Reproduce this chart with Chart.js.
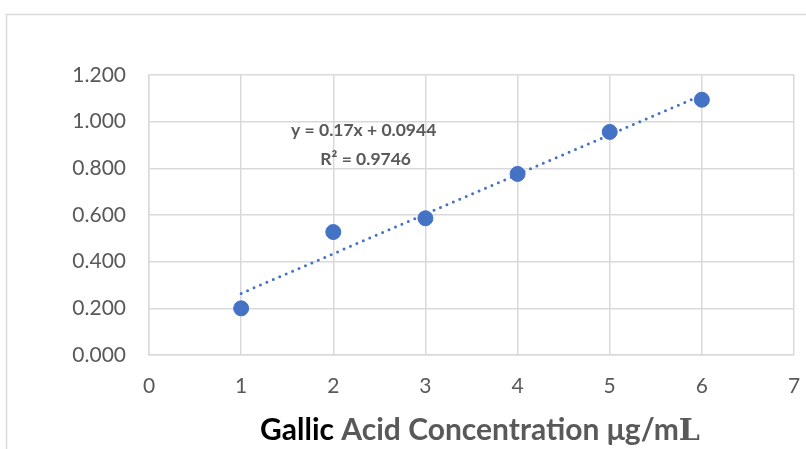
<!DOCTYPE html>
<html><head><meta charset="utf-8">
<script src="https://cdn.jsdelivr.net/npm/chart.js@4/dist/chart.umd.min.js"></script>
<style>html,body{margin:0;padding:0;background:#fff}#wrap{width:806px;height:449px;position:relative}</style>
</head><body><div id="wrap"><canvas id="c" width="806" height="449"></canvas></div>
<script>
const concentrations = [1, 2, 3, 4, 5, 6];
const absorbance = [0.200, 0.527, 0.586, 0.776, 0.956, 1.094];
const trendX = [1, 6];
const trendY = [0.264, 1.114];
const yTicks = [0, 0.2, 0.4, 0.6, 0.8, 1.0, 1.2];
const xTicks = [0, 1, 2, 3, 4, 5, 6, 7];
const equationText = ["y = 0.17x + 0.0944", "R\u00B2 = 0.9746"];
const titleParts = [["Gallic ", "#000000", "Lato"], ["Acid Concentration \u03BCg/m", "#595959", "Lato"], ["L", "#595959", "DejaVu Serif"]];

const FONT = "Lato, 'Open Sans', sans-serif";
const blue = "#4472C4";
const grid = "#d9d9d9";

const framePlugin = {
  id: 'frame',
  beforeDraw(chart) {
    const ctx = chart.ctx;
    ctx.save();
    ctx.fillStyle = '#fff';
    ctx.fillRect(0, 0, chart.width, chart.height);
    ctx.strokeStyle = grid;
    ctx.lineWidth = 1.5;
    ctx.strokeRect(6.5, 14.5, 820, 460);
    ctx.restore();
  },
  afterDraw(chart) {
    const ctx = chart.ctx;
    const xs = chart.scales.x, ys = chart.scales.y;
    ctx.save();
    ctx.fillStyle = '#595959';
    ctx.font = "bold 17.5px " + FONT;
    ctx.textAlign = 'center';
    ctx.textBaseline = 'middle';
    const cx = xs.getPixelForValue(2.33);
    ctx.fillText(equationText[0], cx, ys.getPixelForValue(0.963));
    ctx.fillText(equationText[1], cx + 2, ys.getPixelForValue(0.839));
    ctx.textAlign = 'left';
    ctx.textBaseline = 'alphabetic';
    let total = 0;
    const size = 30;
    const widths = titleParts.map(p => { ctx.font = "bold " + size + "px " + p[2]; const w = ctx.measureText(p[0]).width; total += w; return w; });
    let x = 480 - total / 2;
    titleParts.forEach((p, i) => {
      ctx.font = "bold " + size + "px " + p[2];
      ctx.fillStyle = p[1];
      ctx.fillText(p[0], x, 440);
      x += widths[i];
    });
    ctx.restore();
  }
};

new Chart(document.getElementById('c'), {
  type: 'scatter',
  data: {
    datasets: [
      {
        label: 'Absorbance',
        data: concentrations.map((c, i) => ({x: c, y: absorbance[i]})),
        backgroundColor: blue,
        borderColor: blue,
        pointRadius: 7.5,
        pointHoverRadius: 7.5,
        order: 1
      },
      {
        label: 'Linear trend',
        type: 'line',
        data: trendX.map((c, i) => ({x: c, y: trendY[i]})),
        borderColor: blue,
        borderWidth: 3,
        borderDash: [0, 7],
        borderCapStyle: 'round',
        pointRadius: 0,
        fill: false,
        order: 2
      }
    ]
  },
  options: {
    responsive: false,
    animation: false,
    layout: { padding: { left: 0, right: 12, top: 75, bottom: 0 } },
    plugins: { legend: { display: false }, tooltip: { enabled: false } },
    scales: {
      x: {
        type: 'linear', min: 0, max: 7,
        afterBuildTicks(s) { s.ticks = xTicks.map(v => ({value: v})); },
        afterFit(s) { s.height = 94; s.paddingLeft = 0; s.paddingRight = 0; },
        grid: { color: grid, lineWidth: 1.5, drawTicks: false },
        border: { color: grid, width: 1.5 },
        ticks: { color: '#595959', font: { family: FONT, size: 21 }, padding: 19, maxRotation: 0 }
      },
      y: {
        type: 'linear', min: 0, max: 1.2,
        afterBuildTicks(s) { s.ticks = yTicks.map(v => ({value: v})); },
        afterFit(s) { s.width = 149; s.paddingTop = 0; s.paddingBottom = 0; },
        grid: { color: grid, lineWidth: 1.5, drawTicks: false },
        border: { color: grid, width: 1.5 },
        ticks: { color: '#595959', font: { family: FONT, size: 21 }, padding: 23, callback: v => v.toFixed(3) }
      }
    }
  },
  plugins: [framePlugin]
});
</script>
</body></html>
